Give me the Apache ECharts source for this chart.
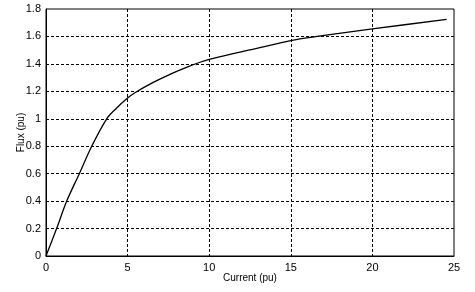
<!DOCTYPE html>
<html>
<head>
<meta charset="utf-8">
<script src="https://cdn.jsdelivr.net/npm/echarts@6/dist/echarts.min.js"></script>
<style>
  html, body { margin: 0; padding: 0; background: #fff; }
  #chart { width: 475px; height: 292px; }
</style>
</head>
<body>
<div id="chart"></div>
<script>
// magnetisation curve
const currentPu = [0, 0.65, 1.27, 2.04, 2.8, 3.72, 4.3, 5, 5.45, 6.57, 7.6, 8.72, 9.44, 10, 11.27, 12.5, 15, 16.6, 20, 24.55];
const fluxPu = [0, 0.2, 0.4, 0.6, 0.8, 1.0, 1.075, 1.151, 1.19, 1.265, 1.324, 1.38, 1.412, 1.433, 1.47, 1.502, 1.57, 1.6, 1.655, 1.724];
const xTicks = { min: 0, max: 25, interval: 5 };
const yTicks = { min: 0, max: 1.8, interval: 0.2 };

const chart = echarts.init(document.getElementById("chart"));
const font = "Liberation Sans, Arial, sans-serif";
const dashed = { show: true, showMinLine: false, showMaxLine: false, lineStyle: { color: "#000", type: [3, 2], width: 1 } };

chart.setOption({
  animation: false,
  grid: {
    left: 46, top: 9, width: 408, height: 247,
    containLabel: false, outerBoundsMode: "none",
    show: true, borderColor: "#000", borderWidth: 1, backgroundColor: "#fff"
  },
  xAxis: {
    type: "value",
    min: xTicks.min, max: xTicks.max, interval: xTicks.interval,
    name: "Current (pu)", nameLocation: "middle", nameGap: 17, nameMoveOverlap: false,
    nameTextStyle: { color: "#000", fontFamily: font, fontSize: 10 },
    axisLine: { show: true, lineStyle: { color: "#000" } },
    axisTick: { show: false },
    axisLabel: { color: "#000", fontFamily: font, fontSize: 11, margin: 6 },
    splitLine: dashed
  },
  yAxis: {
    type: "value",
    min: yTicks.min, max: yTicks.max, interval: yTicks.interval,
    name: "Flux (pu)", nameLocation: "middle", nameGap: 20, nameMoveOverlap: false,
    nameTextStyle: { color: "#000", fontFamily: font, fontSize: 10 },
    axisLine: { show: true, lineStyle: { color: "#000" } },
    axisTick: { show: false },
    axisLabel: { color: "#000", fontFamily: font, fontSize: 11, margin: 5, formatter: v => String(+v.toFixed(1)) },
    splitLine: dashed
  },
  series: [{
    type: "line",
    data: currentPu.map((c, i) => [c, fluxPu[i]]),
    smooth: 0.3,
    showSymbol: false,
    lineStyle: { color: "#000", width: 1.3 }
  }]
});
</script>
</body>
</html>
